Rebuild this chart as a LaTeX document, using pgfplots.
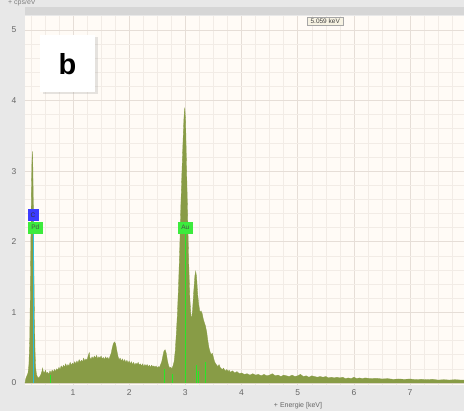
\documentclass[border=0pt]{standalone}
\usepackage{fontspec}
\setmainfont{Liberation Sans}
\usepackage{pgfplots}
\pgfplotsset{compat=1.18}
\usetikzlibrary{shadows}
\definecolor{bgray}{RGB}{232,232,232}
\definecolor{plotbg}{RGB}{255,251,246}
\definecolor{gridmaj}{RGB}{230,222,215}
\definecolor{gridmin}{RGB}{242,236,230}
\definecolor{olivefill}{RGB}{136,156,70}
\definecolor{pkgreen}{RGB}{40,230,40}
\definecolor{lblgreen}{RGB}{60,235,60}
\definecolor{lblblue}{RGB}{60,60,255}
\definecolor{cline}{RGB}{40,190,220}
\definecolor{strip}{RGB}{214,214,214}
\definecolor{kevbox}{RGB}{246,242,226}
\begin{document}
\begin{tikzpicture}
\fill[bgray] (0,0) rectangle (464pt,411pt);
\useasboundingbox (0,0) rectangle (464pt,411pt);
\fill[strip] (25pt,396pt) rectangle (464pt,404pt);
\node[anchor=west, font=\fontsize{7}{8}\selectfont, text=black!50, inner sep=0pt] at (8pt,408pt) {+ cps/eV};
\node[font=\fontsize{7}{8}\selectfont, text=black!60, inner sep=0pt] at (298pt,5pt) {+ Energie [keV]};
\begin{axis}[at={(25pt,26pt)}, anchor=south west, scale only axis,
  width=439pt, height=369pt,
  xmin=0.146, xmax=7.96, ymin=-0.03, ymax=5.197,
  axis background/.style={fill=plotbg},
  axis line style={draw=none},
  major tick length=0pt, minor tick length=0pt,
  xtick={0,...,8}, ytick={0,...,5},
  minor xtick={0,0.25,...,8}, minor ytick={0,0.2,...,5.2},
  grid=both,
  major grid style={gridmaj, line width=0.6pt},
  minor grid style={gridmin, line width=0.5pt},
  tick label style={font=\fontsize{8.5}{9}\selectfont, text=black!60},
  yticklabel style={xshift=-5pt},
  xticklabel style={yshift=-1pt},
  /pgf/number format/assume math mode=true,
  clip=true]
\addplot[draw=olivefill, line width=0.3pt, fill=olivefill] table {
x y
0.146 0.00
0.160 0.06
0.180 0.10
0.200 0.14
0.215 0.25
0.230 0.60
0.240 1.20
0.250 2.00
0.260 2.70
0.270 3.15
0.278 3.28
0.285 3.10
0.295 2.50
0.305 1.60
0.315 0.90
0.325 0.45
0.335 0.22
0.350 0.12
0.370 0.08
0.390 0.07
0.410 0.09
0.430 0.12
0.450 0.17
0.460 0.21
0.470 0.16
0.490 0.14
0.510 0.18
0.530 0.13
0.550 0.15
0.570 0.12
0.590 0.17
0.610 0.14
0.630 0.18
0.650 0.15
0.670 0.19
0.690 0.16
0.710 0.20
0.730 0.18
0.750 0.22
0.770 0.19
0.790 0.24
0.810 0.21
0.830 0.25
0.850 0.22
0.870 0.27
0.890 0.23
0.910 0.26
0.930 0.24
0.950 0.29
0.970 0.25
0.990 0.28
1.010 0.26
1.030 0.30
1.050 0.27
1.070 0.31
1.090 0.28
1.110 0.33
1.130 0.29
1.150 0.32
1.170 0.30
1.190 0.35
1.210 0.31
1.230 0.34
1.250 0.32
1.270 0.38
1.290 0.43
1.300 0.36
1.320 0.33
1.340 0.37
1.360 0.34
1.380 0.38
1.400 0.35
1.420 0.39
1.440 0.34
1.460 0.37
1.480 0.35
1.500 0.38
1.520 0.34
1.540 0.36
1.560 0.33
1.580 0.37
1.600 0.34
1.620 0.36
1.640 0.33
1.660 0.38
1.680 0.42
1.700 0.50
1.720 0.56
1.740 0.58
1.760 0.55
1.780 0.46
1.800 0.38
1.820 0.33
1.840 0.35
1.860 0.31
1.880 0.34
1.900 0.30
1.920 0.33
1.940 0.29
1.960 0.32
1.980 0.28
2.000 0.31
2.020 0.27
2.040 0.30
2.060 0.26
2.080 0.29
2.100 0.25
2.120 0.28
2.140 0.26
2.160 0.29
2.180 0.25
2.200 0.27
2.220 0.24
2.240 0.27
2.260 0.23
2.280 0.26
2.300 0.24
2.320 0.26
2.340 0.23
2.360 0.25
2.380 0.22
2.400 0.25
2.420 0.23
2.440 0.24
2.460 0.22
2.480 0.24
2.500 0.21
2.520 0.23
2.540 0.22
2.560 0.26
2.580 0.30
2.600 0.38
2.620 0.45
2.640 0.47
2.660 0.42
2.680 0.32
2.700 0.25
2.720 0.21
2.740 0.22
2.760 0.20
2.780 0.24
2.800 0.30
2.820 0.45
2.840 0.70
2.860 1.00
2.880 1.40
2.900 1.90
2.920 2.50
2.940 3.00
2.960 3.45
2.975 3.75
2.990 3.90
3.005 3.70
3.020 3.10
3.040 2.40
3.060 1.70
3.080 1.20
3.100 0.95
3.115 0.92
3.130 1.05
3.150 1.30
3.170 1.52
3.185 1.58
3.200 1.50
3.220 1.25
3.240 1.10
3.260 1.00
3.280 1.02
3.300 0.98
3.320 0.90
3.340 0.85
3.360 0.80
3.380 0.72
3.400 0.60
3.420 0.50
3.440 0.44
3.460 0.40
3.480 0.42
3.500 0.36
3.520 0.30
3.540 0.27
3.560 0.25
3.580 0.23
3.600 0.26
3.620 0.22
3.640 0.20
3.660 0.19
3.680 0.21
3.700 0.18
3.720 0.17
3.740 0.19
3.760 0.16
3.780 0.18
3.800 0.15
3.840 0.17
3.880 0.14
3.920 0.16
3.960 0.13
4.000 0.14
4.050 0.12
4.100 0.13
4.150 0.11
4.200 0.13
4.250 0.11
4.300 0.12
4.350 0.10
4.400 0.12
4.450 0.10
4.500 0.11
4.550 0.13
4.600 0.10
4.650 0.11
4.700 0.09
4.750 0.11
4.800 0.10
4.850 0.09
4.900 0.11
4.950 0.09
5.000 0.10
5.050 0.12
5.100 0.09
5.150 0.10
5.200 0.08
5.250 0.10
5.300 0.09
5.350 0.08
5.400 0.09
5.450 0.08
5.500 0.09
5.550 0.07
5.600 0.08
5.650 0.07
5.700 0.08
5.750 0.07
5.800 0.08
5.850 0.06
5.900 0.07
5.950 0.06
6.000 0.08
6.050 0.06
6.100 0.07
6.150 0.06
6.200 0.07
6.300 0.06
6.400 0.065
6.500 0.055
6.600 0.06
6.700 0.05
6.800 0.055
6.900 0.05
7.000 0.055
7.100 0.045
7.200 0.05
7.300 0.045
7.400 0.05
7.500 0.04
7.600 0.045
7.700 0.04
7.800 0.045
7.900 0.04
8.000 0.04
} \closedcycle;
% marker lines
\addplot[ycomb, pkgreen, line width=0.6pt, mark=none] coordinates {
(0.59,0.11) (2.63,0.20) (2.77,0.12) (3.00,2.15) (3.20,0.25) (3.23,0.17) (3.35,0.30)};
\addplot[ycomb, cline, line width=1pt, mark=none] coordinates {(0.295,2.30)};
% labels
\node[fill=lblblue, text=black!80, font=\fontsize{6.5}{6.5}\selectfont, inner sep=0pt, minimum width=11pt, minimum height=12pt] at (axis cs:0.29,2.38) {C};
\node[fill=lblgreen, text=black!70, font=\fontsize{6.5}{6.5}\selectfont, inner sep=0pt, minimum width=15pt, minimum height=12pt] at (axis cs:0.33,2.20) {Pd};
\node[fill=lblgreen, text=black!70, font=\fontsize{6.5}{6.5}\selectfont, inner sep=0pt, minimum width=15pt, minimum height=12pt] at (axis cs:3.00,2.20) {Au};
\node[fill=kevbox, draw=black!35, line width=0.4pt, text=black!75, font=\fontsize{6.5}{7}\selectfont, inner xsep=3pt, inner ysep=1.8pt] at (axis cs:5.49,5.12) {5.059 keV};
\node[fill=white, minimum width=55pt, minimum height=57pt, inner sep=0pt, font=\bfseries\fontsize{29}{29}\selectfont, drop shadow={opacity=0.2, shadow xshift=3pt, shadow yshift=-2pt}] at (axis cs:0.9,4.52) {b};
\end{axis}
\end{tikzpicture}
\end{document}
